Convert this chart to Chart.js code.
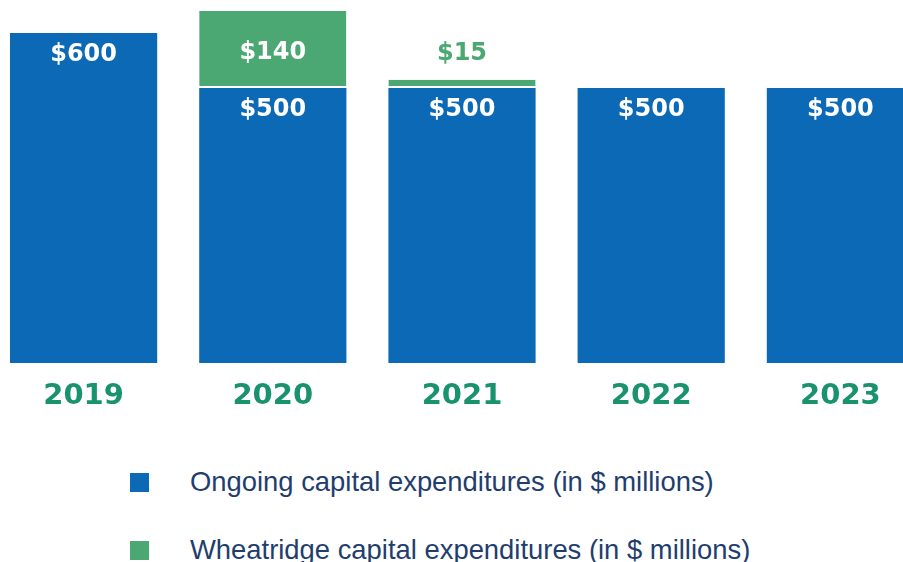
<!DOCTYPE html>
<html>
<head>
<meta charset="utf-8">
<script src="https://cdn.jsdelivr.net/npm/chart.js@4/dist/chart.umd.min.js"></script>
<style>
  html, body { margin: 0; padding: 0; background: #fff; overflow: hidden; width: 903px; height: 562px; }
  #wrap { position: absolute; left: -11px; top: 0; width: 946px; height: 430px; }
  #legend { position: absolute; left: 130px; top: 464px; font-family: "Liberation Sans", Arial, sans-serif; font-size: 27.4px; color: #1f3e6e; }
  .item { display: flex; align-items: center; height: 36px; margin-bottom: 32px; white-space: nowrap; }
  .box { width: 19px; height: 19px; margin-right: 41px; flex: none; }
</style>
</head>
<body>
<div id="wrap"><canvas id="chart"></canvas></div>
<div id="legend"></div>
<script>
const years = ['2019', '2020', '2021', '2022', '2023']
const ongoing = [600, 500, 500, 500, 500]
const wheatridge = [0, 140, 15, 0, 0]
const seriesNames = ['Ongoing capital expenditures (in $ millions)', 'Wheatridge capital expenditures (in $ millions)']

const BLUE = '#0b69b5'
const GREEN = '#4ba872'
const YEAR_GREEN = '#18936b'

// draws the $ values on / above the bars
const valueLabels = {
    id: 'valueLabels',
    afterDatasetsDraw(chart) {
        const c = chart.ctx
        c.save()
        c.font = 'bold 24px "DejaVu Sans", Verdana, sans-serif'
        c.textAlign = 'center'
        c.textBaseline = 'middle'
        chart.data.datasets.forEach((ds, di) => {
            chart.getDatasetMeta(di).data.forEach((bar, i) => {
                const v = ds.data[i]
                if (!v) return
                const txt = '$' + v
                if (di === 0) {
                    c.fillStyle = '#ffffff'
                    c.fillText(txt, bar.x, bar.y + 22)
                } else if (bar.base - bar.y > 40) {
                    c.fillStyle = '#ffffff'
                    c.fillText(txt, bar.x, (bar.y + bar.base) / 2 + 3)
                } else {
                    c.fillStyle = GREEN
                    c.fillText(txt, bar.x, bar.y - 26)
                }
            })
        })
        c.restore()
    }
}

const chart = new Chart(document.getElementById('chart'), {
    type: 'bar',
    data: {
        labels: years,
        datasets: [{
            label: seriesNames[0],
            data: ongoing,
            backgroundColor: BLUE,
            borderWidth: 0
        }, {
            label: seriesNames[1],
            data: wheatridge,
            backgroundColor: GREEN,
            borderColor: '#ffffff',
            borderWidth: { bottom: 2, top: 0, left: 0, right: 0 },
            borderSkipped: false
        }]
    },
    options: {
        responsive: true,
        maintainAspectRatio: false,
        animation: false,
        layout: { padding: 0 },
        datasets: {
            bar: { categoryPercentage: 1, barPercentage: 0.778 }
        },
        plugins: {
            legend: { display: false },
            tooltip: { enabled: false }
        },
        scales: {
            x: {
                stacked: true,
                grid: { display: false, drawTicks: false },
                border: { display: false },
                ticks: {
                    color: YEAR_GREEN,
                    padding: 16,
                    font: { family: '"DejaVu Sans", Verdana, sans-serif', size: 29, weight: 'bold' }
                },
                afterFit(scale) { scale.height = 67 }
            },
            y: {
                stacked: true,
                display: false,
                min: 0,
                max: 660
            }
        }
    },
    plugins: [valueLabels]
})

const legend = document.getElementById('legend')
chart.data.datasets.forEach(ds => {
    const row = document.createElement('div')
    row.className = 'item'
    const box = document.createElement('span')
    box.className = 'box'
    box.style.background = ds.backgroundColor
    const txt = document.createElement('span')
    txt.textContent = ds.label
    row.appendChild(box)
    row.appendChild(txt)
    legend.appendChild(row)
})
</script>
</body>
</html>
